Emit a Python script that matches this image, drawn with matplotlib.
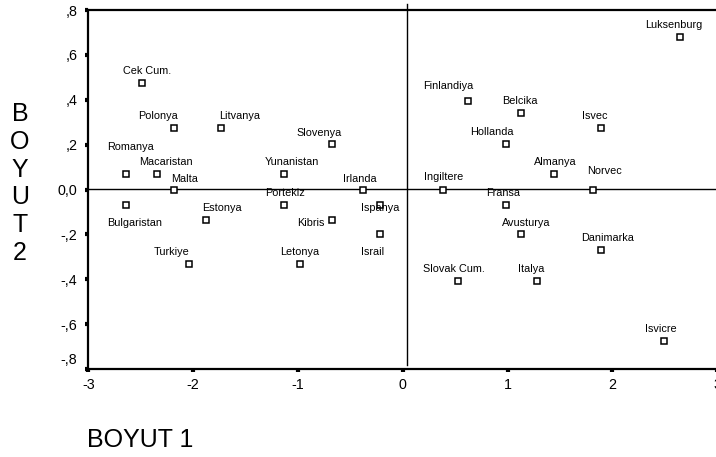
import matplotlib
matplotlib.use('Agg')
from matplotlib import pyplot as plt
from matplotlib import transforms
import numpy as np

plt.rcParams['font.family'] = ['Liberation Sans', 'DejaVu Sans']

# Ulke isimleri ve iki boyutlu koordinatlar
ulkeler = ['Cek Cum.', 'Polonya', 'Litvanya', 'Slovenya', 'Romanya', 'Macaristan',
           'Yunanistan', 'Malta', 'Irlanda', 'Luksenburg', 'Finlandiya', 'Belcika',
           'Isvec', 'Hollanda', 'Almanya', 'Norvec', 'Ingiltere', 'Fransa',
           'Bulgaristan', 'Estonya', 'Portekiz', 'Kibris', 'Turkiye', 'Letonya',
           'Ispanya', 'Israil', 'Avusturya', 'Danimarka', 'Slovak Cum.', 'Italya',
           'Isvicre']
boyut1 = [-2.49, -2.18, -1.73, -0.68, -2.64, -2.34,
          -1.13, -2.18, -0.38, 2.64, 0.62, 1.13,
          1.89, 0.98, 1.44, 1.81, 0.38, 0.98,
          -2.64, -1.88, -1.13, -0.68, -2.04, -0.98,
          -0.22, -0.22, 1.13, 1.89, 0.53, 1.28,
          2.49]
boyut2 = [0.474, 0.273, 0.273, 0.205, 0.068, 0.068,
          0.068, 0.0, 0.0, 0.678, 0.396, 0.340,
          0.273, 0.205, 0.068, 0.0, 0.0, -0.068,
          -0.068, -0.134, -0.068, -0.134, -0.334, -0.334,
          -0.068, -0.200, -0.200, -0.268, -0.406, -0.406,
          -0.674]

# etiket kaydirmalari (piksel)
etiket_kayma = [(5, 12), (-16, 12), (18, 12), (-12, 11), (4, 27), (8, 12),
                (8, 12), (10, 11), (-3, 11), (-6, 12), (-20, 15), (-1, 12),
                (-6, 12), (-14, 12), (2, 12), (12, 19), (1, 12), (-2, 12),
                (9, -18), (16, 12), (1, 12), (-21, -3), (-17, 12), (0, 12),
                (0, -3), (-7, -18), (5, 11), (7, 12), (-4, 12), (-6, 12),
                (-3, 12)]

x_ticks = [-3, -2, -1, 0, 1, 2, 3]
x_tick_labels = ['-3', '-2', '-1', '0', '1', '2', '3']
y_ticks = [0.8, 0.6, 0.4, 0.2, 0.0, -0.2, -0.4, -0.6, -0.8]
y_tick_labels = [',8', ',6', ',4', ',2', '0,0', '-,2', '-,4', '-,6', '-,8']

W, H = 716, 457
fig = plt.figure(figsize=(W / 100, H / 100), dpi=100)
ax = fig.add_axes([88.3 / W, 1 - 369 / H, (717.3 - 88.3) / W, (369 - 10) / H])

ax.plot(boyut1, boyut2, 's', ms=4.5, mfc='white', mec='black', mew=1.1, zorder=3)

for ad, x, y, (dx, dy) in zip(ulkeler, boyut1, boyut2, etiket_kayma):
    ax.annotate(ad, (x, y), xytext=(dx, dy), textcoords='offset pixels',
                ha='center', va='center', fontsize=7.8, zorder=4)

# referans cizgileri
ax.axhline(0.004, color='black', lw=1.0, zorder=1)
ax.plot([0.043, 0.043], [0.827, -0.78], color='black', lw=1.0, clip_on=False, zorder=1)

ax.set_xlim(-3, 3)
ax.set_ylim(-0.8, 0.8)
ax.set_xticks(x_ticks)
ax.set_xticklabels(x_tick_labels)
ax.set_yticks(y_ticks)
ax.set_yticklabels(y_tick_labels)
ax.tick_params(axis='both', direction='out', length=2.5, width=3, labelsize=10.3, color='black')
ax.tick_params(axis='y', pad=5.5)
ax.tick_params(axis='x', pad=4)

for s in ['left', 'bottom', 'top']:
    ax.spines[s].set_linewidth(1.6)
ax.spines['right'].set_visible(False)

# son y etiketini yukari kaydir
lbl = ax.get_yticklabels()[-1]
lbl.set_transform(lbl.get_transform() + transforms.ScaledTranslation(0, 10 / 100, fig.dpi_scale_trans))

fig.text(87 / W, 1 - 440 / H, 'BOYUT 1', fontsize=18, ha='left', va='center')
fig.text(20 / W, 1 - 183.5 / H, 'B\nO\nY\nU\nT\n2', fontsize=18, ha='center', va='center',
         multialignment='center', linespacing=1.2)

fig.savefig('out.png', dpi=100)
